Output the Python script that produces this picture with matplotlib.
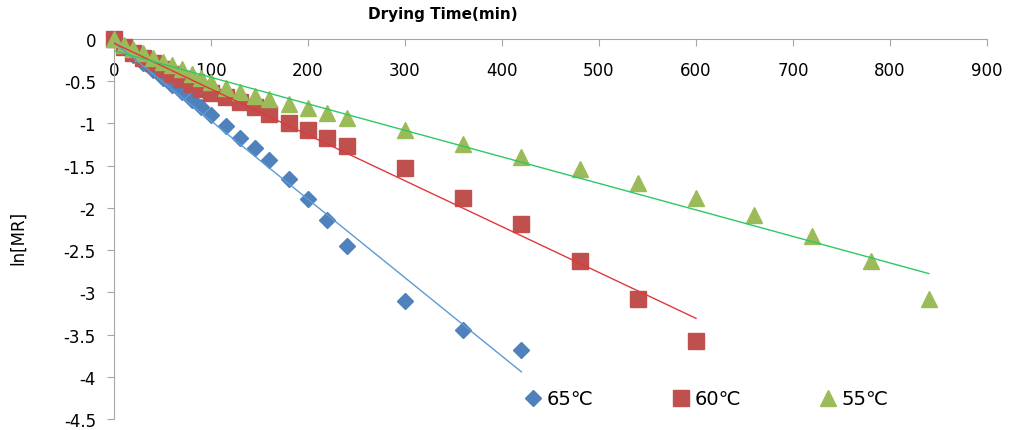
import matplotlib
matplotlib.use("Agg")
import matplotlib.pyplot as plt
import numpy as np

# drying kinetics - ln(MR) vs drying time, three temperatures

t_early = [0, 10, 20, 30, 40, 50, 60, 70, 80, 90, 100, 115, 130, 145, 160, 180, 200, 220, 240]
t_65 = t_early + [300, 360, 420]
t_60 = t_early + [300, 360, 420, 480, 540, 600]
t_55 = t_early + [300, 360, 420, 480, 540, 600, 660, 720, 780, 840]

lnmr_65 = [0, -0.10, -0.19, -0.28, -0.37, -0.46, -0.54, -0.63, -0.72, -0.81, -0.90,
           -1.03, -1.17, -1.29, -1.43, -1.66, -1.90, -2.14, -2.45,
           -3.10, -3.45, -3.68]
lnmr_60 = [0, -0.10, -0.17, -0.23, -0.29, -0.35, -0.41, -0.47, -0.53, -0.59, -0.64,
           -0.69, -0.75, -0.81, -0.89, -0.99, -1.08, -1.17, -1.27,
           -1.53, -1.88, -2.19, -2.63, -3.08, -3.58]
lnmr_55 = [0, -0.07, -0.12, -0.17, -0.22, -0.27, -0.31, -0.36, -0.41, -0.46, -0.51,
           -0.58, -0.63, -0.68, -0.71, -0.77, -0.82, -0.88, -0.93,
           -1.08, -1.24, -1.40, -1.54, -1.70, -1.88, -2.09, -2.33, -2.63, -3.08]

# linear fits (intercept, slope) and end time
fit_65 = (-0.04, -0.00929, 420)
fit_60 = (-0.05, -0.00543, 600)
fit_55 = (-0.14, -0.00314, 840)

labels = ["65℃", "60℃", "55℃"]

fig = plt.figure(figsize=(10.11, 4.31), dpi=100)
ax = fig.add_axes([114/1011, 1-420/431, 873/1011, 380/431])

ax.plot(t_65, lnmr_65, "D", color="#4F81BD", markersize=8.5, label=labels[0], zorder=3, clip_on=False)
ax.plot(t_60, lnmr_60, "s", color="#C0504D", markersize=11, label=labels[1], zorder=3, clip_on=False)
ax.plot(t_55, lnmr_55, "^", color="#9BBB59", markersize=12, label=labels[2], zorder=3, clip_on=False)

for (b, m, tend), c in zip([fit_65, fit_60, fit_55], ["#5B9BD5", "#E0383C", "#2FC866"]):
    xs = np.array([0, tend])
    ax.plot(xs, b + m*xs, color=c, lw=1, zorder=4)

ax.set_xlim(0, 900)
ax.set_ylim(-4.5, 0)
ax.set_xticks(range(0, 901, 100))
ax.set_yticks(np.arange(-4.5, 0.01, 0.5))
ax.set_yticklabels(["-4.5", "-4", "-3.5", "-3", "-2.5", "-2", "-1.5", "-1", "-0.5", "0"])

ax.spines["bottom"].set_position(("data", 0))
ax.spines["top"].set_visible(False)
ax.spines["right"].set_visible(False)
for s in ["bottom", "left"]:
    ax.spines[s].set_color("#A6A6A6")
ax.tick_params(axis="both", colors="#A6A6A6", labelcolor="black", labelsize=12, length=5)
ax.tick_params(axis="x", pad=11)
ax.tick_params(axis="y", pad=8)

fig.text(443/1011, 1-15/431, "Drying Time(min)", ha="center", va="center",
         fontsize=11, fontweight="bold")
ax.set_ylabel("ln[MR]", fontsize=12)
ax.yaxis.set_label_coords(-87/873, 0.48)

ax.legend(loc="center", bbox_to_anchor=(706/1011, 1-400/431), bbox_transform=fig.transFigure,
          ncol=3, frameon=False, fontsize=14, columnspacing=4.0, handletextpad=0.2,
          handlelength=1.0)

fig.savefig("out.png", dpi=100)
